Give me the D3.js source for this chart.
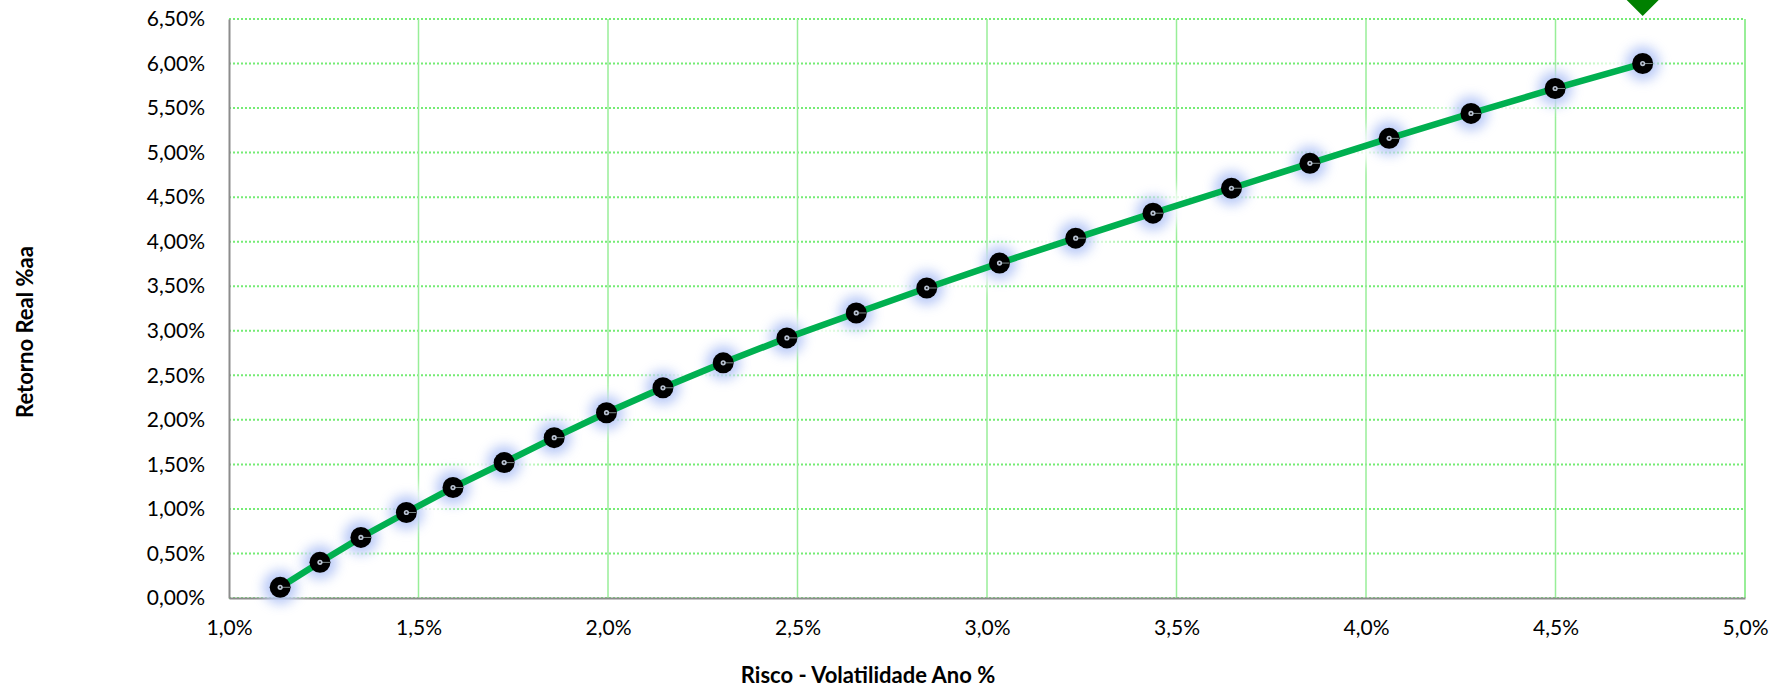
<!DOCTYPE html>
<html>
<head>
<meta charset="utf-8">
<script src="https://cdn.jsdelivr.net/npm/d3@7"></script>
<style>
  html, body { margin: 0; padding: 0; background: #ffffff; }
  svg { display: block; }
</style>
</head>
<body>
<svg id="chart" width="1782" height="690"></svg>
<script>
// ---- data ----
const riskPct   = [1.135, 1.240, 1.348, 1.468, 1.591, 1.726, 1.858, 1.996, 2.145, 2.304, 2.472,
                   2.655, 2.841, 3.033, 3.234, 3.438, 3.645, 3.852, 4.061, 4.277, 4.499, 4.730];
const returnPct = [0.12, 0.40, 0.68, 0.96, 1.24, 1.52, 1.80, 2.08, 2.36, 2.64, 2.92,
                   3.20, 3.48, 3.76, 4.04, 4.32, 4.60, 4.88, 5.16, 5.44, 5.72, 6.00];
const highlightRisk = [4.730];
const highlightReturn = [6.73];
const xTicks = [1.0, 1.5, 2.0, 2.5, 3.0, 3.5, 4.0, 4.5, 5.0];
const yTicks = [0, 0.5, 1, 1.5, 2, 2.5, 3, 3.5, 4, 4.5, 5, 5.5, 6, 6.5];
const xTitle = "Risco - Volatilidade Ano %";
const yTitle = "Retorno Real %aa";

// ---- layout ----
const svg = d3.select("#chart");
const x = d3.scaleLinear().domain([1, 5]).range([229, 1745]);
const y = d3.scaleLinear().domain([0, 6.5]).range([598, 19]);
const fmtX = v => d3.format(".1f")(v).replace(".", ",") + "%";
const fmtY = v => d3.format(".2f")(v).replace(".", ",") + "%";
const font = "Lato, 'Open Sans', sans-serif";

const defs = svg.append("defs");
defs.append("filter").attr("id", "glow").attr("x", "-80%").attr("y", "-80%").attr("width", "260%").attr("height", "260%")
  .append("feGaussianBlur").attr("stdDeviation", 6);
defs.append("filter").attr("id", "wglow").attr("x", "-20%").attr("y", "-20%").attr("width", "140%").attr("height", "140%")
  .append("feGaussianBlur").attr("stdDeviation", 7);

// horizontal gridlines (dotted)
svg.append("g")
  .selectAll("line").data(yTicks).join("line")
  .attr("x1", x(1)).attr("x2", x(5))
  .attr("y1", d => y(d)).attr("y2", d => y(d))
  .attr("stroke", "#74ec74").attr("stroke-width", 2)
  .attr("stroke-dasharray", "2,2");

// vertical gridlines (solid)
svg.append("g")
  .selectAll("line").data(xTicks.filter(d => d > 1)).join("line")
  .attr("x1", d => x(d)).attr("x2", d => x(d))
  .attr("y1", y(6.5)).attr("y2", y(0))
  .attr("stroke", "#98ee98").attr("stroke-width", d => d === 5 ? 2 : 1.5);

// axes
const xAxis = d3.axisBottom(x).tickValues(xTicks).tickFormat(fmtX).tickSize(0).tickPadding(22);
const gx = svg.append("g").attr("transform", `translate(0,${y(0)})`).call(xAxis);
gx.select(".domain").attr("stroke", "#8c8c8c").attr("stroke-width", 2);
gx.selectAll("text").attr("font-family", font).attr("font-size", 21).attr("fill", "#000");

const yAxis = d3.axisLeft(y).tickValues(yTicks).tickFormat(fmtY).tickSize(0).tickPadding(24);
const gy = svg.append("g").attr("transform", `translate(${x(1)},0)`).call(yAxis);
gy.select(".domain").attr("stroke", "#8c8c8c").attr("stroke-width", 2);
gy.selectAll("text").attr("font-family", font).attr("font-size", 21).attr("fill", "#000");

// titles
svg.append("text").attr("x", 868).attr("y", 683)
  .attr("text-anchor", "middle").attr("font-family", font).attr("font-weight", "bold")
  .attr("font-size", 22).attr("fill", "#000").text(xTitle);
svg.append("text").attr("transform", "translate(33,332) rotate(-90)")
  .attr("text-anchor", "middle").attr("font-family", font).attr("font-weight", "bold")
  .attr("font-size", 22).attr("fill", "#000").text(yTitle);

// series
const pts = riskPct.map((r, i) => [r, returnPct[i]]);
const line = d3.line().x(d => x(d[0])).y(d => y(d[1]));

// soft white glow along the line
svg.append("path").datum(pts).attr("d", line)
  .attr("fill", "none").attr("stroke", "#ffffff").attr("stroke-width", 34)
  .attr("stroke-linecap", "round").attr("opacity", 0.85).attr("filter", "url(#wglow)");

// blue glow around markers
svg.append("g").selectAll("circle").data(pts).join("circle")
  .attr("cx", d => x(d[0])).attr("cy", d => y(d[1])).attr("r", 17)
  .attr("fill", "#8aa6f2").attr("opacity", 0.6).attr("filter", "url(#glow)");

svg.append("path").datum(pts).attr("d", line)
  .attr("fill", "none").attr("stroke", "#00b050").attr("stroke-width", 6.5)
  .attr("stroke-linejoin", "round");

const mk = svg.append("g").selectAll("g").data(pts).join("g")
  .attr("transform", d => `translate(${x(d[0])},${y(d[1])})`);
mk.append("circle").attr("r", 10.5).attr("fill", "#000");
mk.append("line").attr("x1", 0).attr("x2", 10).attr("y1", 0).attr("y2", 0)
  .attr("stroke", "#7d8a8a").attr("stroke-width", 1);
mk.append("circle").attr("r", 2.6).attr("fill", "#b9c3d3");
mk.append("circle").attr("r", 1).attr("fill", "#1a1a1a");

// highlighted portfolio (diamond)
const hp = highlightRisk.map((r, i) => [r, highlightReturn[i]]);
svg.append("g").selectAll("path").data(hp).join("path")
  .attr("d", d => {
    const cx = x(d[0]), cy = y(d[1]), h = 17.5;
    return `M${cx},${cy - h}L${cx + h},${cy}L${cx},${cy + h}L${cx - h},${cy}Z`;
  })
  .attr("fill", "#008000");
</script>
</body>
</html>
